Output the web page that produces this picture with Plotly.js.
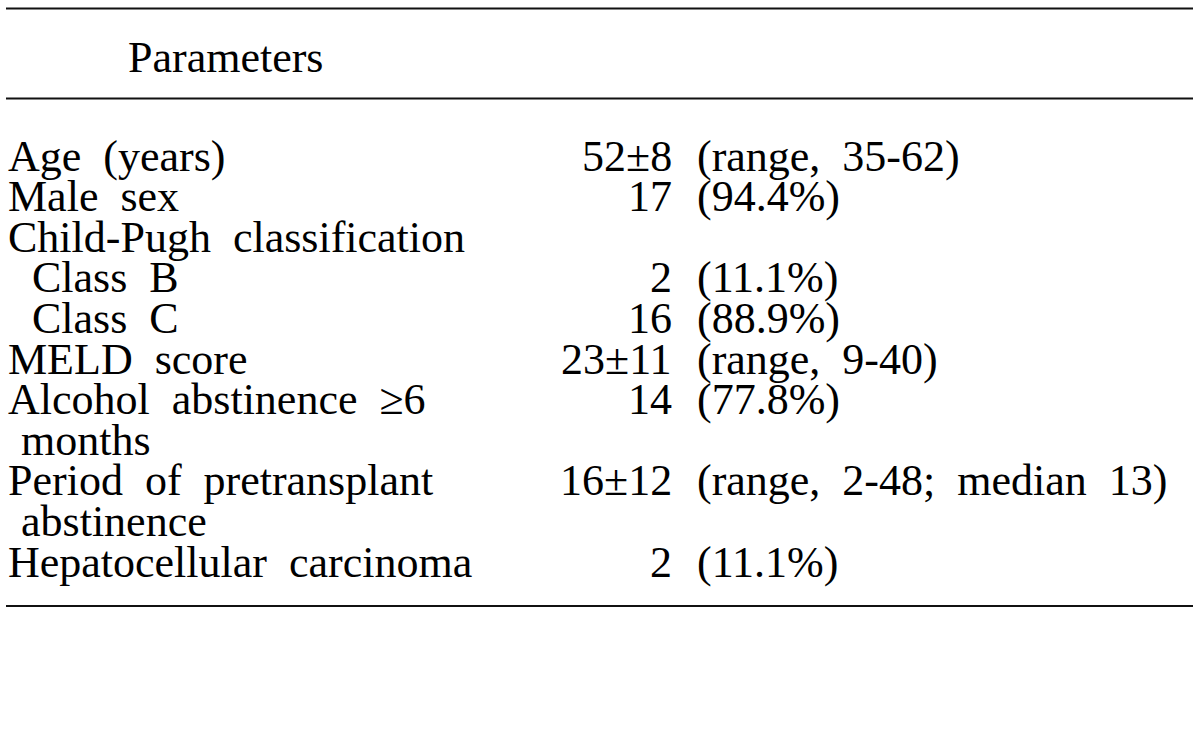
<!DOCTYPE html>
<html>
<head>
<meta charset="utf-8">
<script src="https://cdn.plot.ly/plotly-3.0.1.min.js"></script>
<style>html,body{margin:0;padding:0;background:#fff;}#chart{width:1200px;height:754px;}</style>
</head>
<body>
<div id="chart"></div>
<script>
// ---- Data ----
const headerLabel = "Parameters";
const labels = [
  "Age (years)",
  "Male sex",
  "Child-Pugh classification",
  "Class B",
  "Class C",
  "MELD score",
  "Alcohol abstinence ≥6",
  "months",
  "Period of pretransplant",
  "abstinence",
  "Hepatocellular carcinoma"
];
// 0 = main row, 1 = sub-category, 2 = continuation line of previous label
const labelLevels = [0, 0, 0, 1, 1, 0, 0, 2, 0, 2, 0];
const values = ["52±8", "17", "", "2", "16", "23±11", "14", "", "16±12", "", "2"];
const details = [
  "(range, 35-62)",
  "(94.4%)",
  "",
  "(11.1%)",
  "(88.9%)",
  "(range, 9-40)",
  "(77.8%)",
  "",
  "(range, 2-48; median 13)",
  "",
  "(11.1%)"
];

// ---- Layout constants ----
const W = 1200, H = 754;
const FONT = {family: "Liberation Serif, Times New Roman, serif", size: 44, color: "#000"};
const rowY0 = 156, rowH = 40.6;          // centre of first body row, row pitch
const headerY = 57;
const xLabel = 8, indentX = [0, 24, 13];
const xValueRight = 672, xDetailLeft = 697;

function spaced(s) { return s.replace(/ /g, "\u00a0\u00a0"); }

const annotations = [];
function addText(text, x, y, anchor) {
  if (!text) return;
  annotations.push({
    text: spaced(text), x: x, y: y, xref: "x", yref: "y",
    xanchor: anchor, yanchor: "middle", showarrow: false,
    font: FONT, borderpad: 0, borderwidth: 0
  });
}
addText(headerLabel, 128, headerY, "left");
labels.forEach((lab, i) => {
  const y = rowY0 + i * rowH;
  addText(lab, xLabel + indentX[labelLevels[i]], y, "left");
  addText(values[i], xValueRight, y, "right");
  addText(details[i], xDetailLeft, y, "left");
});

const lineStyle = {color: "#111", width: 2};
const shapes = [8.5, 98.5, 606].map(y => ({
  type: "line", xref: "x", yref: "y", x0: 6, x1: 1193, y0: y, y1: y, line: lineStyle
}));

const layout = {
  width: W, height: H,
  margin: {l: 0, r: 0, t: 0, b: 0, pad: 0},
  paper_bgcolor: "#fff", plot_bgcolor: "#fff",
  xaxis: {range: [0, W], visible: false, fixedrange: true},
  yaxis: {range: [H, 0], visible: false, fixedrange: true},
  showlegend: false,
  annotations: annotations,
  shapes: shapes
};

Plotly.newPlot("chart", [{x: [], y: [], type: "scatter", mode: "markers", hoverinfo: "skip"}], layout, {staticPlot: true, displayModeBar: false});
</script>
</body>
</html>
